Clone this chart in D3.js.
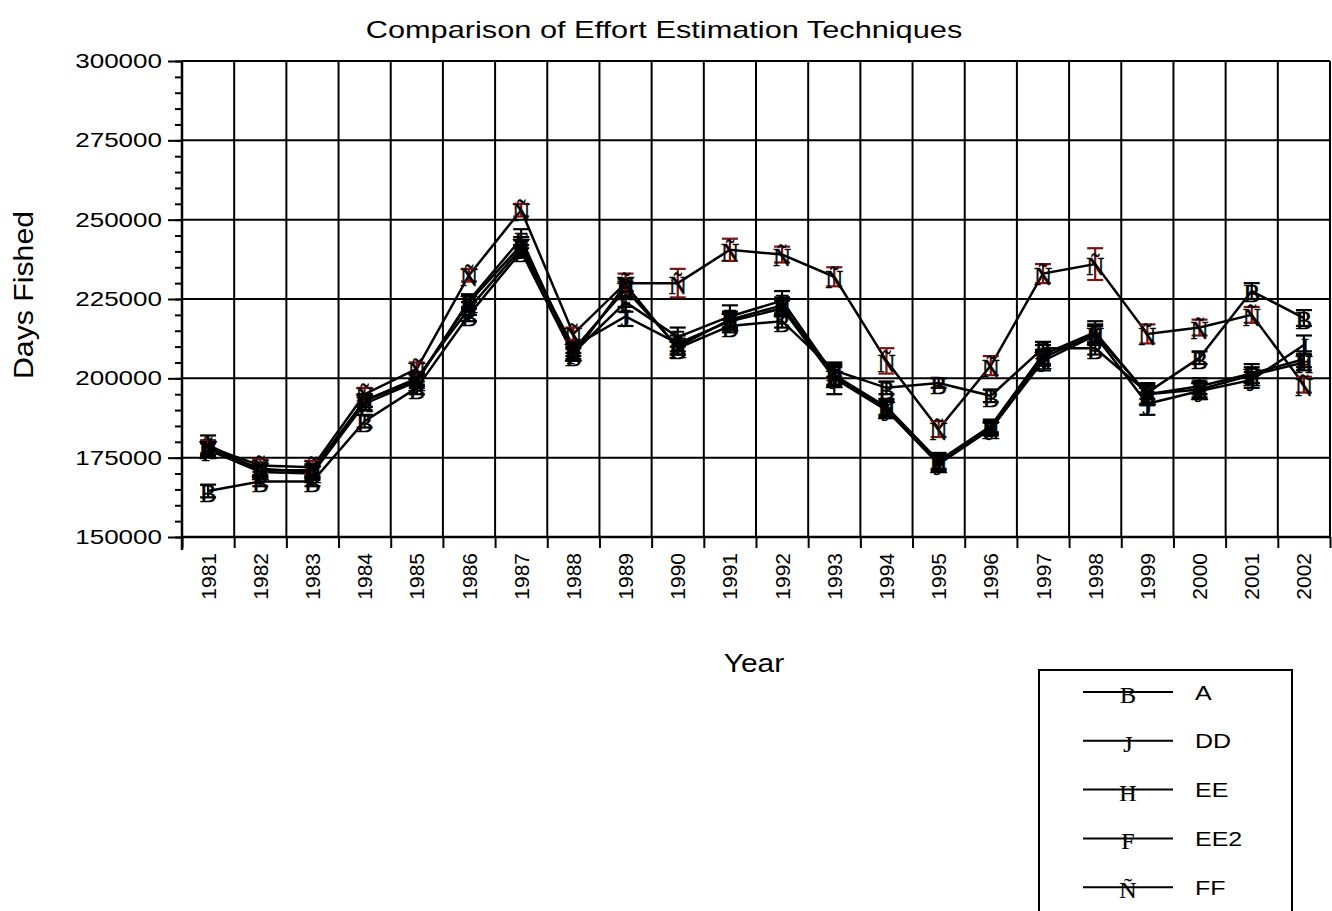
<!DOCTYPE html>
<html>
<head>
<meta charset="utf-8">
<script src="https://cdn.jsdelivr.net/npm/d3@7"></script>
<style>
  body { margin: 0; background: #fff; }
  text { font-family: "Liberation Sans", Arial, sans-serif; fill: #000; }
  .glyph { font-family: "Liberation Serif", "Times New Roman", serif; stroke: #000; stroke-width: 0.5px; }
</style>
</head>
<body>
<svg id="chart" width="1332" height="911"></svg>
<script>
// Survey years
const years = ["1981","1982","1983","1984","1985","1986","1987","1988","1989","1990","1991",
               "1992","1993","1994","1995","1996","1997","1998","1999","2000","2001","2002"];

// Days fished estimated by each technique
const seriesA   = [164500,167500,167500,186500,197000,220000,240000,207500,229500,209500,216500,
                   218000,202500,197000,198500,194500,209500,209500,195500,206500,227500,219000];
const seriesDD  = [179000,171000,171000,193000,200000,222000,241000,210000,219500,211000,218000,
                   222000,200000,190000,173000,184000,205500,213500,192000,196000,199500,210500];
const seriesEE  = [178000,171500,170500,193000,199500,224000,242000,209000,228000,210000,218500,
                   223000,200500,190500,173500,184500,206500,214000,195000,196500,201000,205000];
const seriesEE2 = [177500,170500,170000,192000,199000,224500,244000,208000,224000,213000,219500,
                   224500,201000,191000,174000,185000,207500,214500,195000,197500,201500,206000];
const seriesFF  = [178500,172500,172000,195000,203000,232500,253000,214000,230000,230000,240500,
                   239000,232000,205500,184000,204000,233000,236000,214000,216000,220000,198000];

// Half-widths of the error bars
const errA   = [2000,1500,1500,2000,2000,2000,2000,2000,2000,2000,2000,2000,2000,2000,1500,2000,2000,2000,2000,2000,2500,2500];
const errDD  = [3000,2000,2000,2000,2000,2000,2500,2000,3000,2500,2500,2500,5000,2500,2500,2000,3000,3000,3500,2500,2500,3000];
const errEE  = [2000,2000,2000,2000,2000,2000,2500,2000,2500,2500,2500,2500,3000,2500,2500,2000,2500,3000,3500,2500,2500,2500];
const errEE2 = [2000,2000,2000,2000,2000,2000,3000,2000,3000,3000,3500,3000,3000,2500,2500,2000,3000,3500,3000,2500,3000,2500];
const errFF  = [2000,2000,2000,2000,2000,2000,2000,2000,3000,4500,3500,2500,3000,4000,2500,3000,3000,5000,3000,2500,2500,2500];

const seriesNames  = ["A","DD","EE","EE2","FF"];
const markerGlyphs = ["B","J","H","F","Ñ"];
const errColors    = ["#000","#000","#000","#000","#7a1212"];

const yTicks = [150000,175000,200000,225000,250000,275000,300000];

const table = seriesNames.map((name, i) => ({
  name,
  glyph: markerGlyphs[i],
  errColor: errColors[i],
  values: [seriesA, seriesDD, seriesEE, seriesEE2, seriesFF][i],
  errs: [errA, errDD, errEE, errEE2, errFF][i]
}));

const svg = d3.select("#chart");
const plotL = 182, plotR = 1330, plotT = 61, plotB = 537;

const x = d3.scaleBand().domain(years).range([plotL, plotR]);
const xEdge = d3.scaleLinear().domain([0, years.length]).range([plotL, plotR]);
const y = d3.scaleLinear().domain([150000, 300000]).range([plotB, plotT]);
const cx = i => x(years[i]) + x.bandwidth() / 2;

// stretch text horizontally along its own direction
function stretch(sel, k) {
  sel.each(function () {
    const w = this.getComputedTextLength();
    this.setAttribute("textLength", w * k);
    this.setAttribute("lengthAdjust", "spacingAndGlyphs");
  });
}

// Grid
const grid = svg.append("g");
grid.selectAll("line.h").data(yTicks).join("line").attr("class", "h")
  .attr("x1", plotL).attr("x2", plotR)
  .attr("y1", d => y(d)).attr("y2", d => y(d))
  .attr("stroke", "#000").attr("stroke-width", 2);
grid.selectAll("line.v").data(d3.range(1, years.length + 1)).join("line").attr("class", "v")
  .attr("x1", d => xEdge(d)).attr("x2", d => xEdge(d))
  .attr("y1", plotT).attr("y2", plotB)
  .attr("stroke", "#000").attr("stroke-width", 2);

// Y axis: minor then major ticks
const yMinor = svg.append("g").attr("transform", `translate(${plotL},0)`)
  .call(d3.axisLeft(y).tickValues(d3.range(150000, 300001, 5000)).tickSize(7).tickFormat(""));
const yMajor = svg.append("g").attr("transform", `translate(${plotL},0)`)
  .call(d3.axisLeft(y).tickValues(yTicks).tickSize(14).tickPadding(5).tickFormat(d3.format("d")));
[yMinor, yMajor].forEach(g => {
  g.select(".domain").remove();
  g.selectAll("line").attr("stroke", "#000").attr("stroke-width", 2);
});
yMajor.selectAll("text").attr("font-size", 20).attr("fill", "#000").attr("dx", -1).call(stretch, 1.3);
svg.append("line").attr("x1", plotL).attr("x2", plotL).attr("y1", plotT).attr("y2", plotB + 13)
  .attr("stroke", "#000").attr("stroke-width", 2.5);

// X axis: boundary ticks and rotated year labels
const xTicks = svg.append("g").attr("transform", `translate(0,${plotB})`)
  .call(d3.axisBottom(xEdge).tickValues(d3.range(0, years.length + 1)).tickSize(11).tickFormat(""));
xTicks.select(".domain").remove();
xTicks.selectAll("line").attr("stroke", "#000").attr("stroke-width", 2);
svg.append("line").attr("x1", plotL).attr("x2", plotR).attr("y1", plotB).attr("y2", plotB)
  .attr("stroke", "#000").attr("stroke-width", 2.5);

const xLabels = svg.append("g").attr("transform", `translate(0,${plotB})`)
  .call(d3.axisBottom(x).tickSize(0).tickPadding(0));
xLabels.select(".domain").remove();
xLabels.selectAll("text")
  .attr("font-size", 21)
  .attr("fill", "#000")
  .attr("text-anchor", "end")
  .attr("transform", "rotate(-90)")
  .attr("x", -16).attr("y", 0).attr("dy", "0.36em");

// Series lines
const line = d3.line().x((d, i) => cx(i)).y(d => y(d));
svg.append("g").selectAll("path").data(table).join("path")
  .attr("d", s => line(s.values))
  .attr("fill", "none").attr("stroke", "#000").attr("stroke-width", 2.5);

// Error bars
const cap = 8;
svg.append("g").selectAll("g").data(table).join("g")
  .attr("stroke", s => s.errColor).attr("stroke-width", 2.2)
  .each(function (s) {
    const g = d3.select(this);
    const pts = s.values.map((v, i) => ({ px: cx(i), v, e: s.errs[i] }));
    g.selectAll("line.bar").data(pts).join("line").attr("class", "bar")
      .attr("x1", d => d.px).attr("x2", d => d.px)
      .attr("y1", d => y(d.v + d.e)).attr("y2", d => y(d.v - d.e));
    g.selectAll("line.capt").data(pts).join("line").attr("class", "capt")
      .attr("x1", d => d.px - cap).attr("x2", d => d.px + cap)
      .attr("y1", d => y(d.v + d.e)).attr("y2", d => y(d.v + d.e));
    g.selectAll("line.capb").data(pts).join("line").attr("class", "capb")
      .attr("x1", d => d.px - cap).attr("x2", d => d.px + cap)
      .attr("y1", d => y(d.v - d.e)).attr("y2", d => y(d.v - d.e));
  });

// Markers (letter glyphs)
svg.append("g").selectAll("g").data(table).join("g")
  .each(function (s) {
    d3.select(this).selectAll("text").data(s.values).join("text")
      .attr("class", "glyph")
      .attr("x", (d, i) => cx(i))
      .attr("y", d => y(d) + 11)
      .attr("text-anchor", "middle")
      .attr("font-size", 25)
      .text(s.glyph);
  });

// Titles
svg.append("text").attr("x", 664).attr("y", 38).attr("text-anchor", "middle")
  .attr("font-size", 24).text("Comparison of Effort Estimation Techniques").call(stretch, 1.28);
svg.append("text").attr("text-anchor", "middle")
  .attr("transform", "translate(33,295) rotate(-90)")
  .attr("font-size", 28).text("Days Fished").call(stretch, 1.08);
svg.append("text").attr("x", 754).attr("y", 672).attr("text-anchor", "middle")
  .attr("font-size", 26).text("Year").call(stretch, 1.15);

// Legend
const legend = svg.append("g");
legend.append("rect").attr("x", 1039).attr("y", 670).attr("width", 253).attr("height", 260)
  .attr("fill", "none").attr("stroke", "#000").attr("stroke-width", 2);
const rows = legend.selectAll("g.row").data(table).join("g").attr("class", "row")
  .attr("transform", (d, i) => `translate(0,${692 + i * 48.8})`);
rows.append("line").attr("x1", 1083).attr("x2", 1173).attr("y1", 0).attr("y2", 0)
  .attr("stroke", "#000").attr("stroke-width", 2);
rows.append("text").attr("class", "glyph").attr("x", 1128).attr("y", 11)
  .attr("text-anchor", "middle").attr("font-size", 24).style("stroke-width", "0.2px").text(d => d.glyph);
rows.append("text").attr("x", 1195).attr("y", 0).attr("dy", "0.36em")
  .attr("font-size", 21).text(d => d.name).call(stretch, 1.19);
</script>
</body>
</html>
